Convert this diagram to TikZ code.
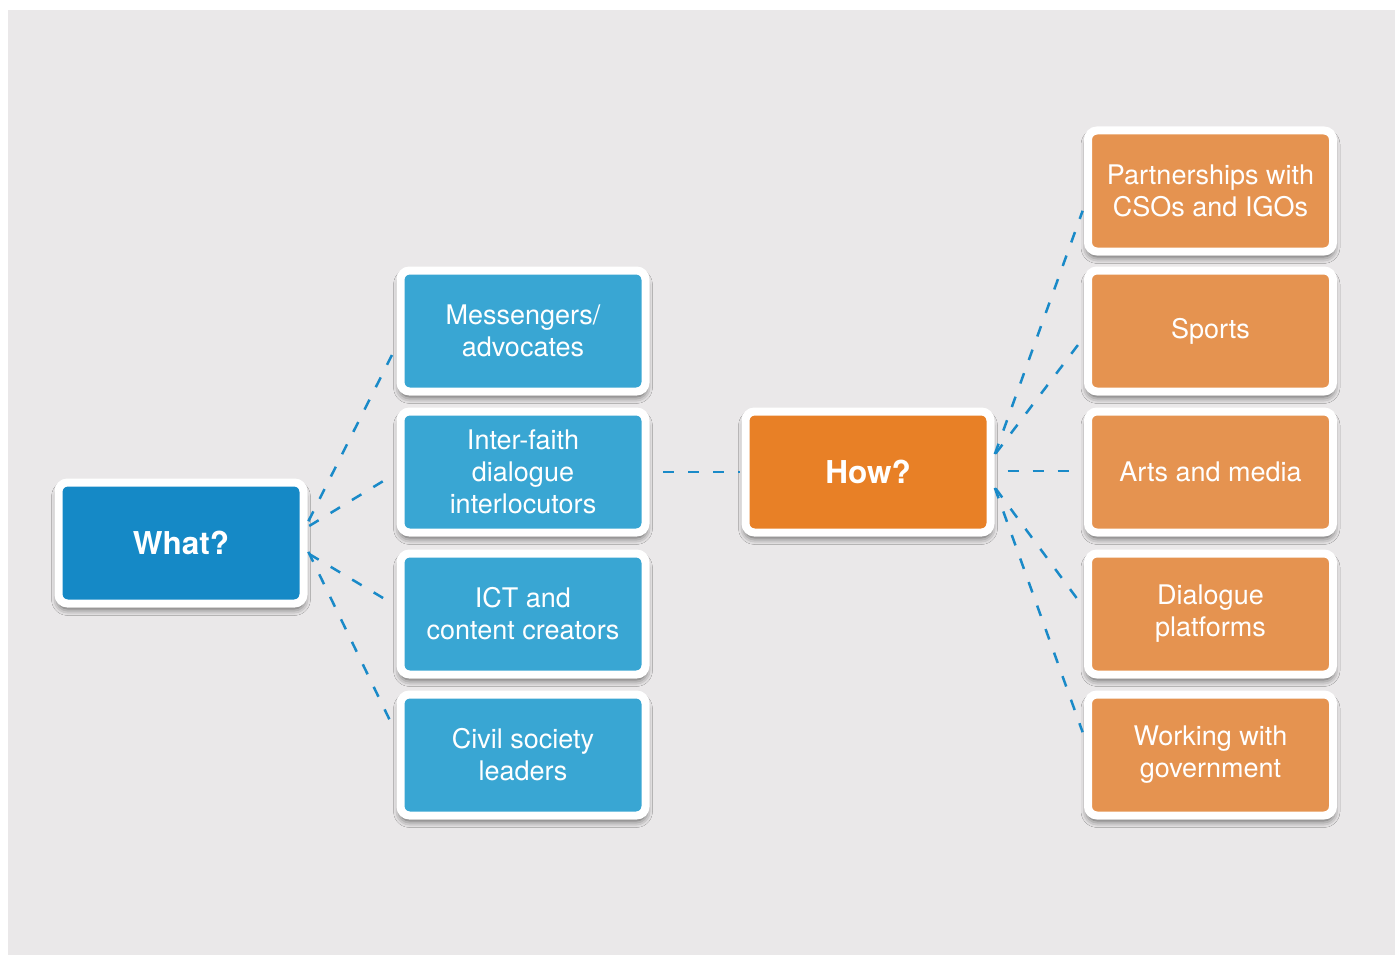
\documentclass[tikz,border=0pt]{standalone}
\usepackage{fontspec}
\setmainfont{TeX Gyre Heros}
\usepackage{tikz}
\usetikzlibrary{shadows.blur}
\usepackage{xcolor}
\definecolor{bgGray}{HTML}{EAE8E9}
\definecolor{whatBlue}{HTML}{1589C6}
\definecolor{whoBlue}{HTML}{39A6D3}
\definecolor{howOrange}{HTML}{E88026}
\definecolor{wayOrange}{HTML}{E59350}
\definecolor{linkBlue}{HTML}{1A8AC8}

\begin{document}
\begin{tikzpicture}[
  x=1pt, y=-1pt,
  every node/.style={font=\fontsize{27}{32}\selectfont, text=white},
  card/.style={draw=white, line width=8pt, rounded corners=9pt,
               minimum width=245pt, minimum height=121pt,
               inner sep=0pt, align=center,
               blur shadow={shadow xshift=0pt, shadow yshift=-5pt,
                            shadow blur radius=7pt, shadow opacity=70}},
  who/.style={card, fill=whoBlue},
  way/.style={card, fill=wayOrange},
  head/.style={card, font=\fontsize{31.5}{36}\selectfont\bfseries},
  link/.style={draw=linkBlue, line width=2.5pt, dash pattern=on 11pt off 14pt}
]
  \useasboundingbox (0,0) rectangle (1395,955);
  \fill[bgGray] (8,10) rectangle (1395,955);

  % the two questions
  \node[head, fill=whatBlue]  (what) at (181,543) {What?};
  \node[head, fill=howOrange] (how)  at (868,472) {How?};

  % what: the actors
  \node[who] (msg)   at (523,331) {Messengers/\\advocates};
  \node[who] (faith) at (523,472) {Inter-faith\\dialogue\\interlocutors};
  \node[who] (ict)   at (523,614) {ICT and\\content creators};
  \node[who] (civil) at (523,755) {Civil society\\leaders};

  % how: the channels
  \node[way] (partner)  at (1210.5,191) {Partnerships with\\CSOs and IGOs};
  \node[way] (sports)   at (1210.5,331) {Sports};
  \node[way] (arts)     at (1210.5,472) {Arts and media};
  \node[way] (dialogue) at (1210.5,614) {Dialogue\\platforms};
  \node[way] (govt)     at (1210.5,755) {Working with\\government};

  \draw[link, shorten <=2pt, shorten >=3.5pt] ([yshift=20pt]what.east)  -- ([yshift=-15pt]msg.west);
  \draw[link, shorten <=2pt, shorten >=3.5pt] ([yshift=16pt]what.east)  -- ([yshift=-1pt]faith.west);
  \draw[link, shorten <=2pt, shorten >=3.5pt] ([yshift=-10pt]what.east) -- ([yshift=8pt]ict.west);
  \draw[link, shorten <=2pt, shorten >=3.5pt] ([yshift=-7pt]what.east)  -- ([yshift=21pt]civil.west);

  \draw[link, shorten <=13.5pt, shorten >=1.5pt] (faith.east) -- (how.west);

  \draw[link, shorten <=1pt, shorten >=4pt] ([yshift=17pt]how.east)  -- ([yshift=-16pt]partner.west);
  \draw[link, shorten <=2pt, shorten >=3pt] ([yshift=17pt]how.east)  -- ([yshift=-6pt]sports.west);
  \draw[link, shorten <=13pt, shorten >=2pt] ([yshift=1pt]how.east) -- ([yshift=1pt]arts.west);
  \draw[link, shorten <=2pt, shorten >=2pt] ([yshift=-15pt]how.east) -- ([yshift=6pt]dialogue.west);
  \draw[link, shorten <=1pt, shorten >=4pt] ([yshift=-15pt]how.east) -- ([yshift=19pt]govt.west);
\end{tikzpicture}
\end{document}
